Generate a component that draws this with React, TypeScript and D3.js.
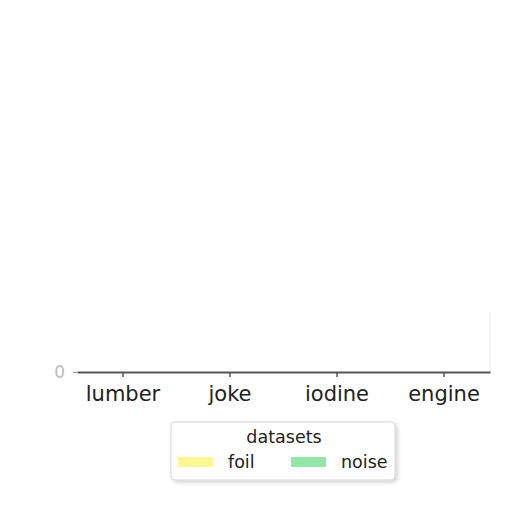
import { useEffect, useRef } from "react";
import * as d3 from "d3";

// Chart data (every value reads as zero in the reference)
const CATEGORIES = ["lumber", "joke", "iodine", "engine"];
const DATASETS = ["foil", "noise"];
const FOIL_VALUES = [0, 0, 0, 0];
const NOISE_VALUES = [0, 0, 0, 0];
const COLORS = ["#fdf894", "#93e6a8"];
const Y_TICKS = [0];

export default function App() {
	const ref = useRef<SVGSVGElement>(null);

	useEffect(() => {
		const svg = d3.select(ref.current);
		svg.selectAll("*").remove();

		const W = 512;
		const H = 512;
		const margin = { top: 30, right: 22, bottom: 140, left: 77 };
		const width = W - margin.left - margin.right;
		const height = H - margin.top - margin.bottom;
		const font = "DejaVu Sans, sans-serif";

		const defs = svg.append("defs");
		const shadow = defs.append("filter").attr("id", "legend-shadow")
			.attr("x", "-10%").attr("y", "-20%").attr("width", "130%").attr("height", "150%");
		shadow.append("feDropShadow")
			.attr("dx", 2).attr("dy", 2).attr("stdDeviation", 2)
			.attr("flood-color", "#000").attr("flood-opacity", 0.18);

		const g = svg.append("g")
			.attr("transform", `translate(${margin.left},${margin.top})`);

		const series = [FOIL_VALUES, NOISE_VALUES];
		const rows = CATEGORIES.map((c, i) => ({
			category: c,
			values: DATASETS.map((d, j) => ({ key: d, value: series[j][i] }))
		}));

		const x = d3.scaleBand()
			.domain(CATEGORIES)
			.range([0, width])
			.paddingInner(0.2)
			.paddingOuter(0.03);

		const xInner = d3.scaleBand()
			.domain(DATASETS)
			.range([0, x.bandwidth()])
			.padding(0.05);

		const y = d3.scaleLinear()
			.domain([0, 1])
			.range([height, 0]);

		const color = d3.scaleOrdinal<string>().domain(DATASETS).range(COLORS);

		// faint right frame
		g.append("line")
			.attr("x1", width).attr("x2", width)
			.attr("y1", height - 60).attr("y2", height)
			.attr("stroke", "#f2f2f2").attr("stroke-width", 1.5);

		// Bars
		g.selectAll(".group")
			.data(rows)
			.enter()
			.append("g")
			.attr("transform", d => `translate(${x(d.category)},0)`)
			.selectAll("rect")
			.data(d => d.values)
			.enter()
			.append("rect")
			.attr("x", d => xInner(d.key)!)
			.attr("y", d => y(d.value))
			.attr("width", xInner.bandwidth())
			.attr("height", d => height - y(d.value))
			.attr("fill", d => color(d.key));

		// X axis
		const xAxis = g.append("g")
			.attr("transform", `translate(0,${height})`)
			.call(d3.axisBottom(x).tickSize(5).tickSizeOuter(0).tickPadding(9));
		xAxis.select(".domain").attr("stroke", "#555").attr("stroke-width", 2);
		xAxis.selectAll(".tick line").attr("stroke", "#555").attr("stroke-width", 1.5);
		xAxis.selectAll(".tick text")
			.attr("font-family", font)
			.attr("font-size", 21)
			.attr("fill", "#222");

		// Y axis (only the zero tick)
		const yAxis = g.append("g")
			.call(d3.axisLeft(y).tickValues(Y_TICKS).tickFormat(d3.format("d")).tickSize(4).tickPadding(8));
		yAxis.select(".domain").remove();
		yAxis.selectAll(".tick line").attr("stroke", "#999");
		yAxis.selectAll(".tick text")
			.attr("font-family", font)
			.attr("font-size", 17)
			.attr("fill", "#bbb");

		// Legend
		const legend = svg.append("g").attr("transform", "translate(171,422)");
		legend.append("rect")
			.attr("width", 224)
			.attr("height", 58)
			.attr("rx", 4)
			.attr("fill", "#fff")
			.attr("stroke", "#d6d6d6")
			.attr("filter", "url(#legend-shadow)");
		legend.append("text")
			.attr("x", 113)
			.attr("y", 21)
			.attr("text-anchor", "middle")
			.attr("font-family", font)
			.attr("font-size", 17.5)
			.attr("fill", "#222")
			.text("datasets");

		const item = legend.selectAll(".item")
			.data(DATASETS)
			.enter()
			.append("g")
			.attr("transform", (_, i) => `translate(${7 + i * 113},35)`);
		item.append("rect")
			.attr("width", 35)
			.attr("height", 10)
			.attr("fill", d => color(d));
		item.append("text")
			.attr("x", 50)
			.attr("y", 11)
			.attr("font-family", font)
			.attr("font-size", 17.5)
			.attr("fill", "#222")
			.text(d => d);
	}, []);

	return (
		<svg
			ref={ref}
			width={512}
			height={512}
			style={{ position: "absolute", left: 0, top: 0, background: "#fff" }}
		/>
	);
}
